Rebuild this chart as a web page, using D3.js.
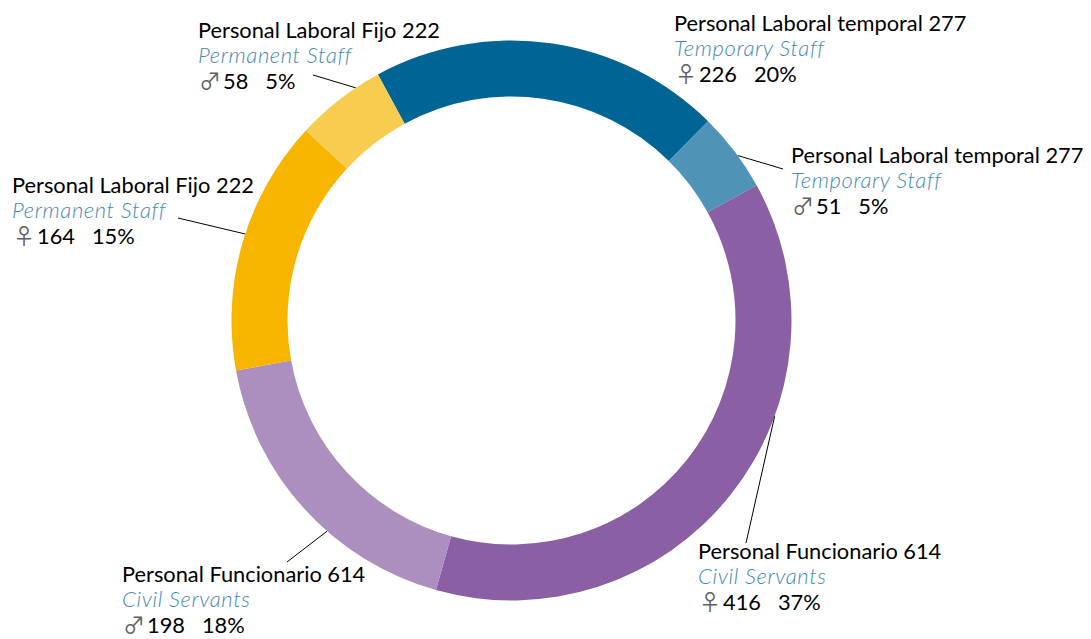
<!DOCTYPE html>
<html>
<head>
<meta charset="utf-8">
<script src="https://cdn.jsdelivr.net/npm/d3@7"></script>
<style>
  html, body { margin: 0; padding: 0; background: #ffffff; }
  svg { display: block; }
</style>
</head>
<body>
<svg id="chart" width="1091" height="639"></svg>
<script>
// ---- Data ----
const categoryNames = ["Personal Laboral temporal", "Personal Laboral temporal", "Personal Funcionario", "Personal Funcionario", "Personal Laboral Fijo", "Personal Laboral Fijo"];
const categoryTotals = [277, 277, 614, 614, 222, 222];
const englishNames = ["Temporary Staff", "Temporary Staff", "Civil Servants", "Civil Servants", "Permanent Staff", "Permanent Staff"];
const genders = ["♀", "♂", "♀", "♂", "♀", "♂"];
const values = [226, 51, 416, 198, 164, 58];
const percents = ["20%", "5%", "37%", "18%", "15%", "5%"];
const colors = ["#006594", "#4f94b7", "#8a5fa3", "#ac8fbf", "#f7b500", "#f8cd4f"];

// ---- Layout ----
const W = 1091, H = 639;
const cx = 511.5, cy = 320.5;
const outerR = 280, innerR = 224;
const startDeg = -28.5;
// label anchor (x, first baseline) per segment
const labelPos = [[674, 31], [791, 163], [698, 559], [122, 582], [12, 193], [198, 38]];
// leader lines: angle on the ring (deg, clockwise from top) and label-side end point
const leaders = [null, [53.9, 783, 169], [110, 746, 543], [221.2, 287, 562], [-72, 178, 218], [-33.8, 313, 75]];

const svg = d3.select("#chart");

const pie = d3.pie().sort(null).value(d => d)
  .startAngle(startDeg * Math.PI / 180)
  .endAngle((startDeg + 360) * Math.PI / 180);
const arc = d3.arc().innerRadius(innerR).outerRadius(outerR);

const g = svg.append("g").attr("transform", `translate(${cx},${cy})`);
g.selectAll("path")
  .data(pie(values))
  .join("path")
  .attr("d", arc)
  .attr("fill", (d, i) => colors[i])
  .attr("stroke", "none");

// leader lines
leaders.forEach((l, i) => {
  if (!l) return;
  const a = l[0] * Math.PI / 180;
  const x1 = cx + outerR * Math.sin(a), y1 = cy - outerR * Math.cos(a);
  svg.append("line")
    .attr("x1", x1).attr("y1", y1)
    .attr("x2", l[1]).attr("y2", l[2])
    .attr("stroke", "#000").attr("stroke-width", 1);
});

// labels
const mainFont = "Lato, 'Liberation Sans', sans-serif";
values.forEach((v, i) => {
  const [x, y] = labelPos[i];
  const lg = svg.append("g").attr("transform", `translate(${x},${y})`);
  lg.append("text")
    .attr("x", 0).attr("y", 0)
    .attr("font-family", mainFont)
    .attr("font-size", 21.8)
    .attr("fill", "#000")
    .text(`${categoryNames[i]} ${categoryTotals[i]}`);
  lg.append("text")
    .attr("x", 0).attr("y", 25)
    .attr("font-family", mainFont)
    .attr("font-style", "italic")
    .attr("font-weight", 300)
    .attr("font-size", 22)
    .attr("letter-spacing", 0.6)
    .attr("fill", "#4689b2")
    .text(englishNames[i]);
  const t = lg.append("text")
    .attr("x", 0).attr("y", 51)
    .attr("font-family", mainFont)
    .attr("font-size", 21.8)
    .attr("fill", "#000");
  t.append("tspan")
    .attr("font-family", "'Noto Sans CJK JP', 'DejaVu Sans', sans-serif")
    .attr("font-size", 22)
    .attr("fill", "#606060")
    .attr("dx", 1)
    .text(genders[i]);
  t.append("tspan").attr("dx", 2).text(v);
  t.append("tspan").attr("dx", 17).text(percents[i]);
});
</script>
</body>
</html>
